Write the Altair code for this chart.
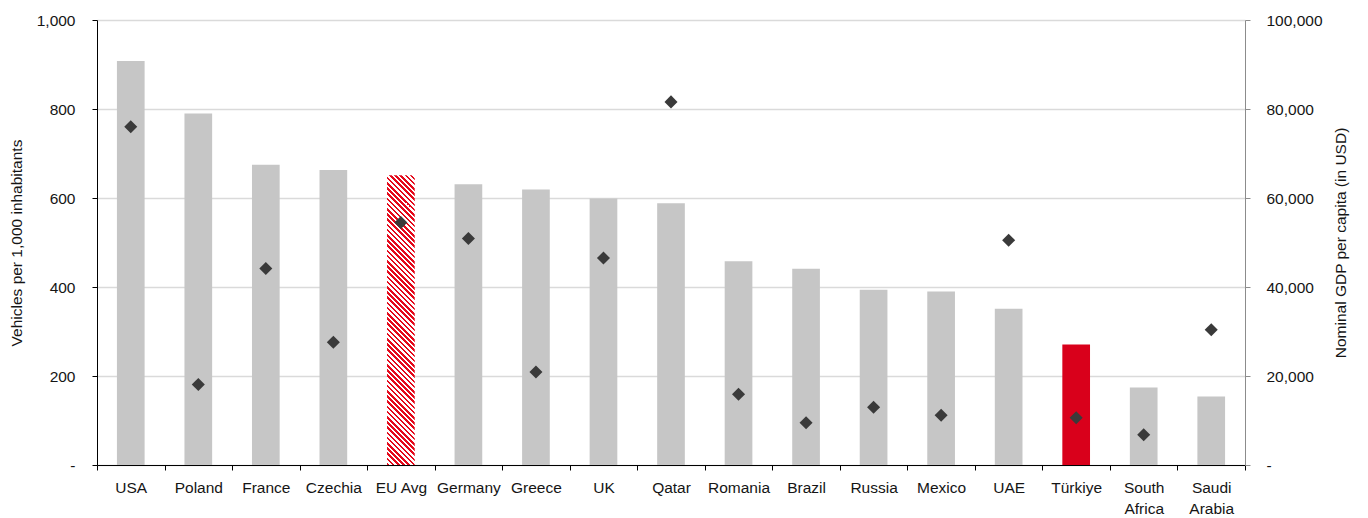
import altair as alt
import pandas as pd

# Vehicles per 1,000 inhabitants (bars) and nominal GDP per capita in USD (diamonds)
countries = ["USA", "Poland", "France", "Czechia", "EU Avg", "Germany", "Greece", "UK",
             "Qatar", "Romania", "Brazil", "Russia", "Mexico", "UAE", "Türkiye",
             "South Africa", "Saudi Arabia"]
vehicles = [908, 790, 675, 663, 651, 631, 619, 599, 588, 458, 441, 394, 390, 351, 271, 174, 154]
gdp = [76000, 18100, 44150, 27600, 54500, 50900, 20900, 46500, 81600, 15900, 9500, 13000,
       11200, 50500, 10600, 6800, 30400]

left_ticks = [0, 200, 400, 600, 800, 1000]
right_ticks = [0, 20000, 40000, 60000, 80000, 100000]

df = pd.DataFrame({"country": countries, "vehicles": vehicles, "gdp": gdp})

W, H = 1148, 445
FONT = "Liberation Sans"
FS = 15.5
TXT = "#151515"
GREY = "#C6C6C6"
RED = "#D9001B"
BAR_FRAC = 0.41

# diagonal red/white hatching for the EU average bar, built as a hard-stop gradient
step = W / len(countries)
bw = step * BAR_FRAC
bh = vehicles[countries.index("EU Avg")] * H / 1000
s = (bw + bh) / (bw ** 2 + bh ** 2)
period = 5.2
n = int(round((bw + bh) / period))
stops = []
for k in range(n):
    a, m, b = k / n, (k + 0.5) / n, (k + 1) / n
    stops += [alt.GradientStop(offset=a, color="#E4081A"),
              alt.GradientStop(offset=m, color="#E4081A"),
              alt.GradientStop(offset=m, color="#FFFFFF"),
              alt.GradientStop(offset=b, color="#FFFFFF")]
hatch = alt.LinearGradient(gradient="linear", stops=stops,
                           x1=0, y1=1, x2=bw * s, y2=1 - bh * s)

x_enc = alt.X("country:N", sort=countries,
              scale=alt.Scale(paddingInner=0, paddingOuter=0),
              axis=alt.Axis(title=None, labelAngle=0, tickBand="extent",
                            domainColor="#000000", tickColor="#000000", tickSize=5,
                            labelPadding=10, labelFont=FONT, labelFontSize=FS,
                            labelColor=TXT, labelLineHeight=21,
                            labelExpr="indexof(datum.label, 'South') == 0 || indexof(datum.label, 'Saudi') == 0 ? split(datum.label, ' ') : datum.label"))

y_left = alt.Y("vehicles:Q",
               scale=alt.Scale(domain=[0, 1000], nice=False),
               axis=alt.Axis(title="Vehicles per 1,000 inhabitants", values=left_ticks,
                             labelExpr="datum.value == 0 ? '-' : format(datum.value, ',')",
                             domainColor="#000000", tickColor="#000000", tickSize=5,
                             gridColor="#DADADA", gridWidth=1.5, labelPadding=17,
                             titlePadding=12, labelFont=FONT, labelFontSize=FS,
                             labelColor=TXT, titleFont=FONT, titleFontSize=FS,
                             titleFontWeight="normal", titleColor=TXT))

bars = alt.Chart(df).transform_filter("datum.country != 'EU Avg'").mark_bar(
    width=alt.RelativeBandSize(BAR_FRAC)).encode(
    x=x_enc,
    y=y_left,
    color=alt.condition("datum.country == 'Türkiye'", alt.value(RED), alt.value(GREY)),
)

eu_bar = alt.Chart(df).transform_filter("datum.country == 'EU Avg'").mark_bar(
    color=hatch, width=alt.RelativeBandSize(BAR_FRAC)).encode(x=x_enc, y=y_left)

diamonds = alt.Chart(df).mark_point(shape="diamond", filled=True, size=170,
                                     color="#3A3A3A", opacity=1).encode(
    x=x_enc,
    y=alt.Y("gdp:Q",
            scale=alt.Scale(domain=[0, 100000], nice=False),
            axis=alt.Axis(orient="right", title="Nominal GDP per capita (in USD)",
                          values=right_ticks, grid=False,
                          labelExpr="datum.value == 0 ? '-' : format(datum.value, ',')",
                          domainColor="#8C8C8C", tickColor="#8C8C8C", tickSize=5,
                          labelPadding=16, titlePadding=26, titleAngle=270,
                          labelFont=FONT, labelFontSize=FS, labelColor=TXT,
                          titleFont=FONT, titleFontSize=FS, titleFontWeight="normal",
                          titleColor=TXT)),
)

chart = alt.layer(alt.layer(bars, eu_bar), diamonds).resolve_scale(y="independent").properties(
    width=W, height=H,
    autosize=alt.AutoSizeParams(type="none"),
    padding={"left": 97, "top": 20, "right": 1368 - 97 - W, "bottom": 518 - 20 - H},
    background="#FFFFFF",
).configure_view(stroke=None)

chart.save("out.html", embed_options={"renderer": "svg", "actions": False})
